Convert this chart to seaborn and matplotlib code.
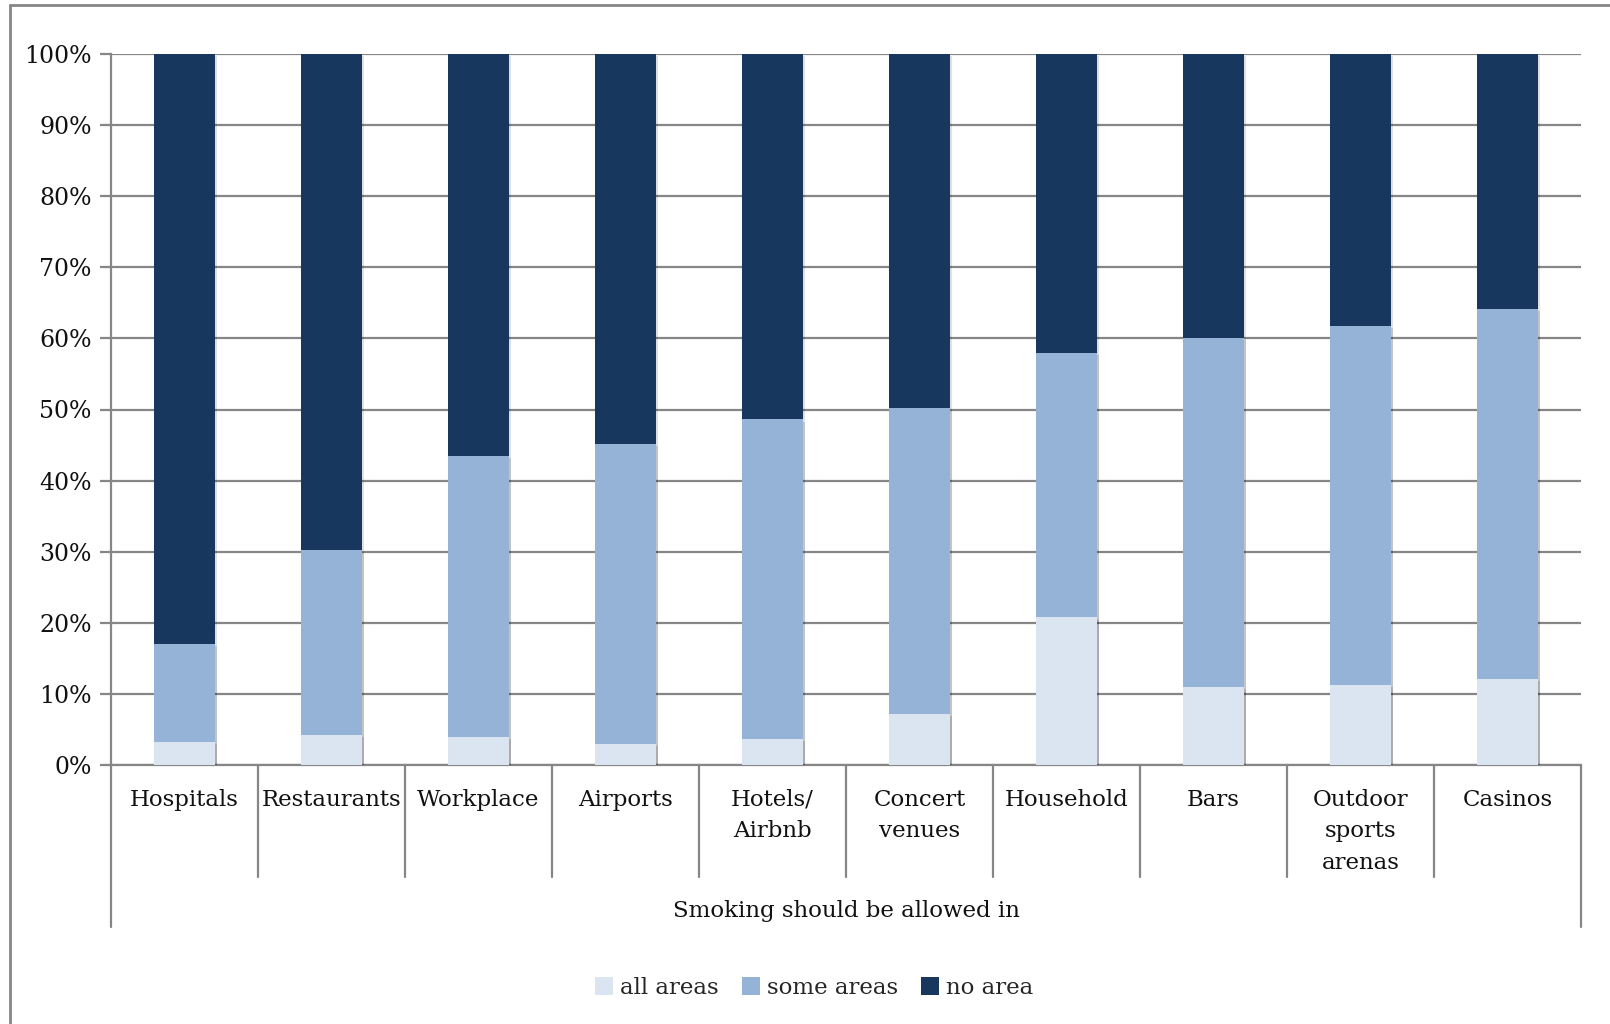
import matplotlib
matplotlib.use("Agg")
import matplotlib.pyplot as plt
import matplotlib.patheffects as pe
from matplotlib.patches import Patch
from matplotlib.lines import Line2D
import matplotlib.transforms as mtransforms
import seaborn as sns
import pandas as pd

categories = ["Hospitals", "Restaurants", "Workplace", "Airports", "Hotels/\nAirbnb",
              "Concert\nvenues", "Household", "Bars", "Outdoor\nsports\narenas", "Casinos"]
all_areas = [3.2, 4.2, 4.0, 3.0, 3.7, 7.2, 20.8, 11.0, 11.3, 12.1]
some_areas = [13.8, 26.0, 39.5, 42.1, 44.9, 43.0, 37.1, 49.0, 50.4, 52.1]
no_area = [83.0, 69.8, 56.5, 54.9, 51.4, 49.8, 42.1, 40.0, 38.3, 35.8]
series_names = ["all areas", "some areas", "no area"]
group_label = "Smoking should be allowed in"
y_ticks = [0, 10, 20, 30, 40, 50, 60, 70, 80, 90, 100]

colors = {"all areas": "#DBE5F1", "some areas": "#95B3D7", "no area": "#17375E"}

sns.set_theme(style="white")
plt.rcParams["font.family"] = ["DejaVu Serif"]

cum_some = [a + s for a, s in zip(all_areas, some_areas)]
cum_no = [a + s + n for a, s, n in zip(all_areas, some_areas, no_area)]

df = pd.DataFrame({
    "category": categories * 3,
    "value": cum_no + cum_some + all_areas,
    "series": ["no area"] * 10 + ["some areas"] * 10 + ["all areas"] * 10,
})

W, H = 1610, 1024
fig = plt.figure(figsize=(W / 100, H / 100), dpi=100)
ax = fig.add_axes([111 / W, 1 - 765 / H, (1581 - 111) / W, (765 - 54) / H])

grid_c = "#868686"
for yt in y_ticks:
    ax.axhline(yt, color=grid_c, lw=1.6, zorder=0)

shadow = [pe.SimplePatchShadow(offset=(1.5, -1.5), alpha=0.12, shadow_rgbFace="#000000"), pe.Normal()]
for name in ["no area", "some areas", "all areas"]:
    sub = df[df["series"] == name]
    sns.barplot(data=sub, x="category", y="value", color=colors[name], width=0.41,
                saturation=1, ax=ax, order=categories, errorbar=None, zorder=3,
                linewidth=0)

for p in ax.patches:
    p.set_path_effects(shadow)

ax.set_xlim(-0.5, 9.5)
ax.set_ylim(0, 100)
ax.set_yticks(y_ticks)
ax.set_yticklabels([f"{v}%" for v in y_ticks], fontsize=17, color="#111111")
ax.set_xticks([])
ax.set_xlabel("")
ax.set_ylabel("")
for s in ["top", "right"]:
    ax.spines[s].set_visible(False)
for s in ["left", "bottom"]:
    ax.spines[s].set_color(grid_c)
    ax.spines[s].set_linewidth(1.6)
ax.tick_params(axis="y", which="both", left=True, length=8, width=1.6, color=grid_c, pad=6)

# multi-level category axis
trans = mtransforms.blended_transform_factory(ax.transData, ax.transAxes)
ax_h = (765 - 54)
def yfrac(py):
    return -(py - 765) / ax_h

for i in range(1, 10):
    ax.add_line(Line2D([i - 0.5, i - 0.5], [0, yfrac(877)], transform=trans, color=grid_c,
                       lw=1.6, clip_on=False))
for xe in [-0.5, 9.5]:
    ax.add_line(Line2D([xe, xe], [0, yfrac(927)], transform=trans, color=grid_c,
                       lw=1.6, clip_on=False))
for i, c in enumerate(categories):
    ax.text(i, yfrac(789), c, transform=trans, ha="center", va="top", fontsize=16.5,
            color="#111111", linespacing=1.55)
ax.text(4.5, yfrac(900), group_label, transform=trans, ha="center", va="top", fontsize=16.5,
        color="#111111")

# legend
handles = [Patch(facecolor=colors[n], edgecolor="none") for n in series_names]
fig.legend(handles, series_names, loc="center", bbox_to_anchor=(814 / W, 1 - 988 / H),
           ncol=3, frameon=False, fontsize=16.5, handlelength=0.8, handleheight=0.8,
           handletextpad=0.3, columnspacing=1.0)

# outer frame
fig.add_artist(Line2D([10 / W, 10 / W], [0, 1 - 5 / H], transform=fig.transFigure, color=grid_c, lw=2))
fig.add_artist(Line2D([10 / W, 1], [1 - 5 / H, 1 - 5 / H], transform=fig.transFigure, color=grid_c, lw=2))

fig.savefig("out.png", dpi=100, facecolor="white")
